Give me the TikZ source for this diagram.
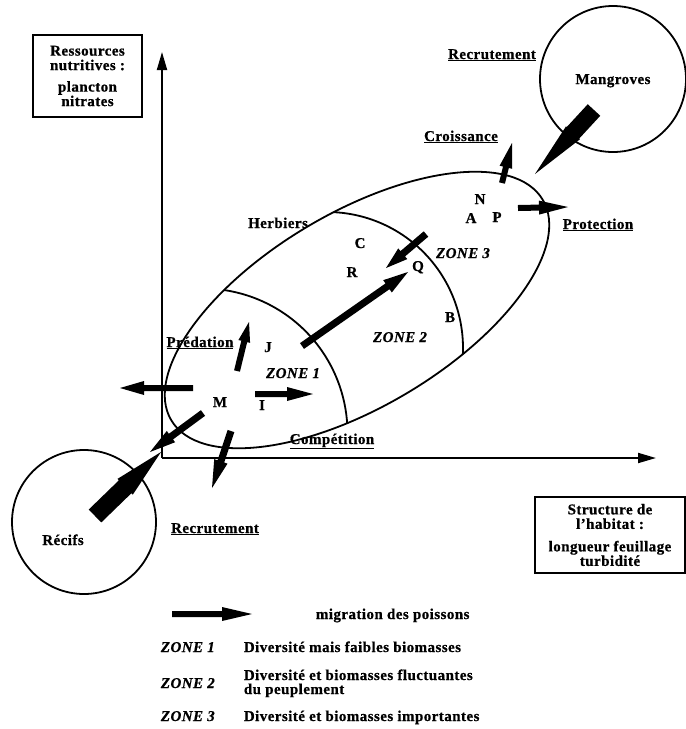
\documentclass[tikz,border=0pt]{standalone}
\usepackage{fontspec}
\setmainfont{Liberation Serif}[LetterSpace=3, BoldFeatures={FakeBold=0.7}, BoldItalicFeatures={FakeBold=0.7}]
\usetikzlibrary{calc,arrows.meta}
% fat filled arrow: #1 tail, #2 tip, #3 shaft half width, #4 head half width, #5 head length
\newcommand\fatarrow[5]{%
  \coordinate (fam) at ($(#2)!#5!(#1)$);
  \fill ($(#1)!#3!90:(#2)$) -- ($(fam)!#3!90:(#2)$) -- ($(fam)!#4!90:(#2)$) -- (#2)
     -- ($(fam)!#4!-90:(#2)$) -- ($(fam)!#3!-90:(#2)$) -- ($(#1)!#3!-90:(#2)$) -- cycle;}
\begin{document}
\begin{tikzpicture}[x=1pt,y=-1pt,line width=1.8pt,
  lbl/.style={font=\fontsize{15}{14.5}\selectfont\bfseries, inner sep=0pt, anchor=base},
  zn/.style={font=\fontsize{15}{14.5}\selectfont\bfseries\itshape, inner sep=0pt, anchor=base},
  boxn/.style={draw, line width=1.8pt, align=center, inner sep=0pt,
               font=\fontsize{15}{14.5}\selectfont\bfseries},
  ringn/.style={draw, circle, line width=1.8pt, inner sep=0pt},
  ax/.style={line width=1.9pt, -{Triangle[length=18pt,width=10pt]}}]
\useasboundingbox (0,0) rectangle (686,729);

% boxes
\node[boxn, minimum width=109pt, minimum height=82pt] (res) at (87.5,76)
  {Ressources\\nutritives :\\[7pt]plancton\\nitrates};
\node[boxn, minimum width=150pt, minimum height=76pt] (hab) at (610,535)
  {Structure de\\l'habitat :\\[8pt]longueur feuillage\\turbidité};

% axes
\coordinate (O) at (162,458);
\coordinate (Ytip) at (162,52);
\coordinate (Xtip) at (656,458);
\draw[ax] (O) -- (Ytip);
\draw[ax] (O) -- (Xtip);

% circles
\node[ringn, minimum size=146pt] (mang) at (613,79) {};
\node[ringn, minimum size=144pt] (recif) at (84,522) {};
\node[lbl] (mangt) at (613,84) {Mangroves};
\node[lbl] (recift) at (63,545) {Récifs};

% ellipse and zone borders
\draw[rotate around={30.7:(357,310)}] (357,310) ellipse [x radius=216, y radius=97];
\begin{scope}
  \clip[rotate around={30.7:(357,310)}] (357,310) ellipse [x radius=216, y radius=97];
  \draw (203,433) ++(-88:144.5) arc[start angle=-88, end angle=8, radius=144.5];
  \draw (327,348) ++(-95:136) arc[start angle=-95, end angle=12, radius=136];
\end{scope}

% letters
\node[lbl] (herb) at (278,228) {Herbiers};
\node[lbl] (lC) at (360,248) {C};
\node[lbl] (lR) at (352,277) {R};
\node[lbl] (lQ) at (418,271) {Q};
\node[lbl] (lB) at (450,322) {B};
\node[lbl] (lN) at (480,204) {N};
\node[lbl] (lA) at (471,223) {A};
\node[lbl] (lP) at (497,222) {P};
\node[lbl] (lJ) at (268,352) {J};
\node[lbl] (lM) at (220,407) {M};
\node[lbl] (lI) at (262,410) {I};
\node[zn] (z1) at (293,378) {ZONE 1};
\node[zn] (z2) at (400,342) {ZONE 2};
\node[zn] (z3) at (463,258) {ZONE 3};

% underlined labels
\node[lbl] (pred) at (200,347) {\underline{Prédation}};
\node[lbl] (comp) at (332,444) {\underline{Compétition}};
\node[lbl] (crois) at (461,141) {\underline{Croissance}};
\node[lbl] (recr1) at (492,59) {\underline{Recrutement}};
\node[lbl] (prot) at (598,229) {\underline{Protection}};
\node[lbl] (recr2) at (215,533) {\underline{Recrutement}};

% migration arrows
\coordinate (a1t) at (302,346); \coordinate (a1h) at (408,272);
\coordinate (a2t) at (426,234); \coordinate (a2h) at (386,268);
\coordinate (a3t) at (237,371); \coordinate (a3h) at (249,322);
\coordinate (a4t) at (255,394); \coordinate (a4h) at (313,394);
\coordinate (a5t) at (193,388); \coordinate (a5h) at (120,388);
\coordinate (a6t) at (203,413); \coordinate (a6h) at (150,452);
\coordinate (a7t) at (231,431); \coordinate (a7h) at (212,488);
\coordinate (a8t) at (502,183); \coordinate (a8h) at (512,143);
\coordinate (a9t) at (518,208); \coordinate (a9h) at (568,207);
\fatarrow{a1t}{a1h}{3.5pt}{7.5pt}{25pt}
\fatarrow{a2t}{a2h}{3.5pt}{7pt}{22pt}
\fatarrow{a3t}{a3h}{3pt}{6pt}{20pt}
\fatarrow{a4t}{a4h}{3pt}{7pt}{26pt}
\fatarrow{a5t}{a5h}{3pt}{7pt}{24pt}
\fatarrow{a6t}{a6h}{3.5pt}{7pt}{26pt}
\fatarrow{a7t}{a7h}{3.5pt}{7pt}{28pt}
\fatarrow{a8t}{a8h}{3pt}{6.5pt}{25pt}
\fatarrow{a9t}{a9h}{3pt}{7pt}{29pt}

% big wedges from reef and mangroves
\coordinate (w1t) at (95,516); \coordinate (w1h) at (161,452);
\coordinate (w2t) at (594,110); \coordinate (w2h) at (535,174);
\fatarrow{w1t}{w1h}{9pt}{11pt}{50pt}
\fatarrow{w2t}{w2h}{8.5pt}{9.5pt}{56pt}

% legend
\coordinate (lgt) at (172,614); \coordinate (lgh) at (252,614);
\fatarrow{lgt}{lgh}{3pt}{7pt}{30pt}
\node[lbl, anchor=base west] (lgm) at (315,619) {migration des poissons};
\node[zn, anchor=base west] (lz1) at (160,652) {ZONE 1};
\node[lbl, anchor=base west] (ld1) at (243,652) {Diversité mais faibles biomasses};
\node[zn, anchor=base west] (lz2) at (160,688) {ZONE 2};
\node[lbl, anchor=base west] (ld2) at (243,680) {Diversité et biomasses fluctuantes};
\node[lbl, anchor=base west] (ld2b) at (243,694) {du peuplement};
\node[zn, anchor=base west] (lz3) at (160,721) {ZONE 3};
\node[lbl, anchor=base west] (ld3) at (243,721) {Diversité et biomasses importantes};
\end{tikzpicture}
\end{document}
